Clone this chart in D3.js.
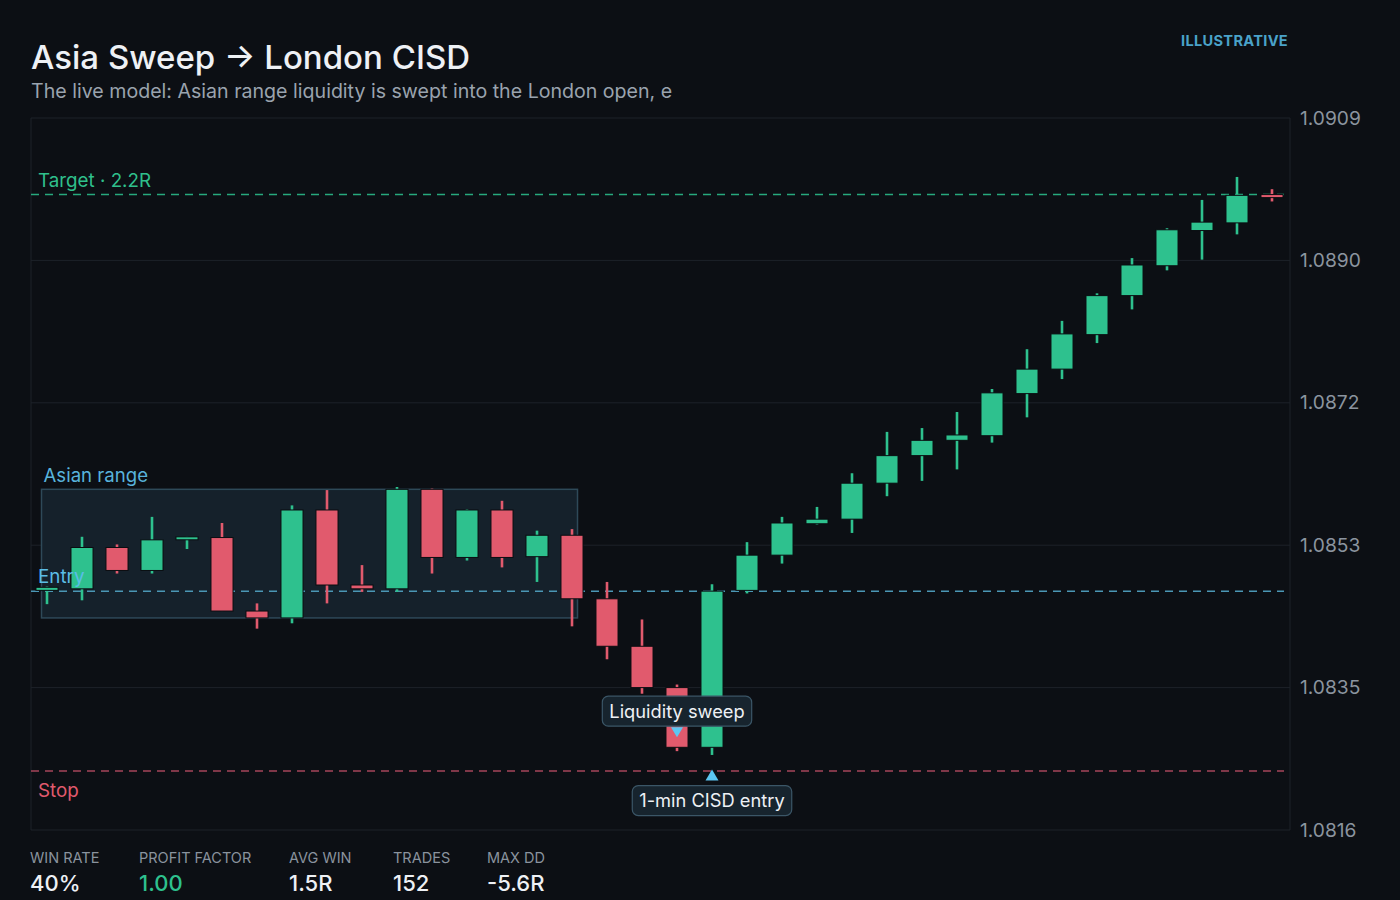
<!DOCTYPE html>
<html><head><meta charset="utf-8">
<script src="https://cdn.jsdelivr.net/npm/d3@7/dist/d3.min.js"></script>
<style>
html,body{margin:0;padding:0;background:#0c0f14;}
svg{display:block;font-family:Inter,"Noto Sans",sans-serif;}
</style></head>
<body>
<svg id="chart" width="1400" height="900"></svg>
<script>
// ---- data ----
const opens  = [1.08473,1.08475,1.08529,1.08499,1.08539,1.08542,1.08446,1.08437,1.08578,1.08480,1.08475,1.08605,1.08516,1.08578,1.08517,1.08545,1.08462,1.08400,1.08346,1.08268,1.08473,1.08519,1.08560,1.08566,1.08613,1.08649,1.08669,1.08675,1.08730,1.08762,1.08807,1.08858,1.08897,1.08943,1.08953,1.08990];
const highs  = [1.08478,1.08543,1.08533,1.08569,1.08543,1.08561,1.08456,1.08584,1.08604,1.08506,1.08608,1.08606,1.08579,1.08590,1.08551,1.08553,1.08484,1.08435,1.08350,1.08481,1.08536,1.08569,1.08582,1.08626,1.08680,1.08685,1.08706,1.08736,1.08788,1.08825,1.08861,1.08907,1.08946,1.08983,1.09013,1.08997];
const lows   = [1.08455,1.08460,1.08495,1.08495,1.08527,1.08446,1.08423,1.08430,1.08456,1.08471,1.08471,1.08495,1.08512,1.08503,1.08484,1.08426,1.08383,1.08338,1.08263,1.08258,1.08469,1.08508,1.08559,1.08548,1.08596,1.08616,1.08631,1.08666,1.08699,1.08749,1.08796,1.08840,1.08891,1.08905,1.08938,1.08981];
const closes = [1.08477,1.08529,1.08499,1.08539,1.08541,1.08446,1.08437,1.08578,1.08480,1.08475,1.08605,1.08516,1.08578,1.08516,1.08545,1.08462,1.08400,1.08346,1.08268,1.08472,1.08519,1.08561,1.08566,1.08613,1.08649,1.08669,1.08676,1.08731,1.08762,1.08808,1.08858,1.08898,1.08944,1.08954,1.08989,1.08986];
const yTicks = [1.0816,1.08346,1.08532,1.08718,1.08904,1.0909];
const levelNames  = ["Target · 2.2R","Entry","Stop"];
const levelValues = [1.08990,1.08472,1.08237];
const asiaRange = {label:"Asian range", start:0, end:15, high:1.08605, low:1.08437};
const annotations = [
  {text:"Liquidity sweep", index:18, dir:"down"},
  {text:"1-min CISD entry", index:19, dir:"up"}
];
const statLabels = ["WIN RATE","PROFIT FACTOR","AVG WIN","TRADES","MAX DD"];
const statValues = ["40%","1.00","1.5R","152","-5.6R"];
const title = "Asia Sweep → London CISD";
const subtitle = "The live model: Asian range liquidity is swept into the London open, e";

// ---- layout ----
const C = {bg:"#0c0f14", grid:"#1d2229", up:"#2ec18e", down:"#e15a6d", blue:"#5bbde6", axis:"#8b949f"};
const svg = d3.select("#chart");
const L = 31, R = 1290, T = 118, B = 830;
const idx = d3.range(opens.length);
const x = d3.scaleBand().domain(idx).range([29.5, 1289.5]).paddingInner(0.37).paddingOuter(0.185);
const y = d3.scaleLinear().domain([1.0816, 1.0909]).range([B, T]);
const cx = i => x(i) + x.bandwidth()/2;

svg.append("rect").attr("width",1400).attr("height",900).attr("fill",C.bg);

// title
svg.append("text").attr("x",31).attr("y",69).attr("fill","#eef1f5").attr("font-size",33).attr("font-weight",500).text(title);
svg.append("text").attr("x",31).attr("y",98).attr("fill","#9aa3ae").attr("font-size",19.6).text(subtitle);
svg.append("text").attr("x",1288).attr("y",46).attr("text-anchor","end").attr("fill","#4aa2c9").attr("font-size",14.6).attr("font-weight",700).attr("letter-spacing",0.3).text("ILLUSTRATIVE");

// grid
const grid = svg.append("g");
grid.selectAll("line").data(yTicks).join("line")
  .attr("x1",L).attr("x2",R).attr("y1",d=>y(d)).attr("y2",d=>y(d))
  .attr("stroke",C.grid).attr("stroke-width",1);
svg.append("line").attr("x1",L).attr("x2",L).attr("y1",T).attr("y2",B).attr("stroke",C.grid);
svg.append("line").attr("x1",R).attr("x2",R).attr("y1",T).attr("y2",B).attr("stroke",C.grid);

// axis
const yAxis = d3.axisRight(y).tickValues(yTicks).tickFormat(d3.format(".4f")).tickSize(0).tickPadding(10);
const ag = svg.append("g").attr("transform",`translate(${R},0)`).call(yAxis);
ag.select(".domain").remove();
ag.selectAll("text").attr("fill",C.axis).attr("font-size",19.2).attr("font-family","Inter,sans-serif");

// asian range box
const bx0 = cx(asiaRange.start) - 5.5, bx1 = cx(asiaRange.end) + 5.5;
svg.append("rect").attr("x",bx0).attr("y",y(asiaRange.high)).attr("width",bx1-bx0)
  .attr("height",y(asiaRange.low)-y(asiaRange.high))
  .attr("fill","#15212b").attr("stroke","#2e4958").attr("stroke-width",1.5);
svg.append("text").attr("x",bx0+2).attr("y",y(asiaRange.high)-7).attr("fill","#58b3dc").attr("font-size",18.6).text(asiaRange.label);

// level lines
const levelColors = ["#27a97d","#4b97b5","#a5455a"];
svg.append("g").selectAll("line").data(levelValues).join("line")
  .attr("x1",L).attr("x2",R-6).attr("y1",d=>y(d)).attr("y2",d=>y(d))
  .attr("stroke",(d,i)=>levelColors[i]).attr("stroke-width",1.5).attr("stroke-dasharray","8,6");

// candles
const cg = svg.append("g").selectAll("g").data(idx).join("g");
cg.append("line").attr("x1",cx).attr("x2",cx).attr("y1",i=>y(highs[i])).attr("y2",i=>y(lows[i]))
  .attr("stroke",i=>closes[i]>=opens[i]?C.up:C.down).attr("stroke-width",2.6);
cg.append("rect").attr("x",i=>x(i)).attr("width",x.bandwidth())
  .attr("y",i=>y(Math.max(opens[i],closes[i])) - (Math.abs(y(opens[i])-y(closes[i]))<3?1.5:0))
  .attr("height",i=>Math.max(3,Math.abs(y(opens[i])-y(closes[i]))))
  .attr("fill",i=>closes[i]>=opens[i]?C.up:C.down).attr("stroke","#0a0d11").attr("stroke-width",1);

// level labels
const levelTextColors = ["#2fc08c","#5bbde6","#e15a6d"];
const levelDy = [-8,-8,26];
svg.append("g").selectAll("text").data(levelValues).join("text")
  .attr("x",38).attr("y",(d,i)=>y(d)+levelDy[i]).attr("fill",(d,i)=>levelTextColors[i]).attr("font-size",18.8)
  .text((d,i)=>levelNames[i]);

// annotations
annotations.forEach(a=>{
  const px = cx(a.index);
  const g = svg.append("g");
  const t = g.append("text").attr("font-size",18.3).attr("fill","#eef1f5").attr("text-anchor","middle").text(a.text);
  const w = t.node().getComputedTextLength() + 14, h = 30;
  let boxY, triPts;
  if (a.dir==="down") {
    const tipY = y(lows[a.index]) - 14;
    boxY = tipY - 10 - h - 1;
    triPts = [[px-6,tipY-10],[px+6,tipY-10],[px,tipY]];
  } else {
    const tipY = y(levelValues[2]) - 1.5;
    triPts = [[px-6.5,tipY+11],[px+6.5,tipY+11],[px,tipY]];
    boxY = tipY + 16;
  }
  g.insert("rect","text").attr("x",px-w/2).attr("y",boxY).attr("width",w).attr("height",h).attr("rx",6)
    .attr("fill","#17242e").attr("stroke","#3b5667").attr("stroke-width",1.2);
  t.attr("x",px).attr("y",boxY+h/2+6.5);
  g.append("path").attr("d",d3.line()(triPts)+"Z").attr("fill","#5cc6f2");
});

// stats
const statX = [30,139,289,393,487];
const sg = svg.append("g").selectAll("g").data(statLabels).join("g").attr("transform",(d,i)=>`translate(${statX[i]},0)`);
sg.append("text").attr("y",863).attr("fill","#8a939e").attr("font-size",14.5).text(d=>d);
sg.append("text").attr("y",891).attr("fill",(d,i)=>i===1?"#2ec18e":"#eef1f5").attr("font-size",22).attr("font-weight",500).text((d,i)=>statValues[i]);
</script>
</body></html>
